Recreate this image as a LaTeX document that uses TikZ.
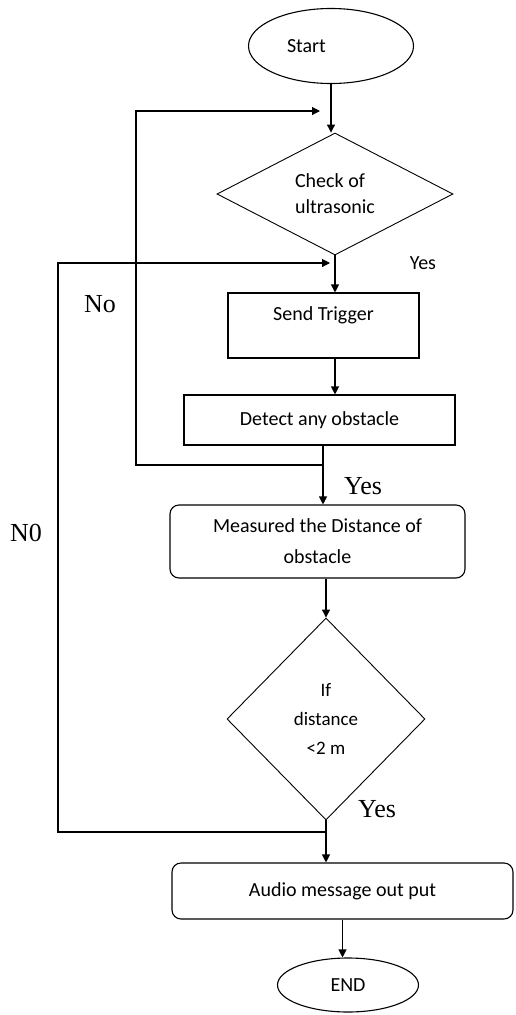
\documentclass[tikz,border=0pt]{standalone}
\usepackage{fontspec}
\setmainfont{Carlito}
\newfontfamily\timesface{Liberation Serif}
\usetikzlibrary{shapes.geometric,arrows.meta}
\begin{document}
\begin{tikzpicture}[x=1pt,y=-1pt,line width=1.1pt,
  font=\fontsize{20}{26}\selectfont,
  terminal/.style={draw,ellipse,inner sep=0pt},
  decision/.style={draw,diamond,inner sep=0pt,line width=0.9pt},
  process/.style={draw,rectangle,inner sep=0pt},
  roundbox/.style={draw,rectangle,rounded corners=9pt,inner sep=0pt},
  arr/.style={-{Triangle[length=8pt,width=8pt]}},
  answer/.style={font=\timesface\fontsize{26}{26}\selectfont}]
\useasboundingbox (0,0) rectangle (515,1015);
\node[terminal,minimum width=165pt,minimum height=75pt,text width=88pt,align=left] (start) at (331,46) {Start};
\node[decision,minimum width=236pt,minimum height=122pt,align=left] (check) at (335,194) {Check of\\ultrasonic};
\node[process,minimum width=191pt,text height=27pt,text depth=38pt] (trigger) at (323.5,325.5) {Send Trigger};
\node[process,minimum width=271pt,minimum height=50pt] (detect) at (319.5,420) {Detect any obstacle};
\node[roundbox,minimum width=295pt,minimum height=73pt,align=center,font=\fontsize{20}{31}\selectfont] (measure) at (317.5,541.5) {Measured the Distance of\\obstacle};
\node[decision,minimum width=198pt,minimum height=202pt,align=center,font=\fontsize{19}{29}\selectfont] (dist) at (326,719) {If\\distance\\<2 m};
\node[roundbox,minimum width=341pt,minimum height=56pt] (audio) at (342.5,891) {Audio message out put};
\node[terminal,minimum width=141pt,minimum height=54pt] (stop) at (348,985) {END};
% loop points
\coordinate (nojoin) at (323,465);
\coordinate (noturn) at (136,111);
\coordinate (noend) at (320,111);
\coordinate (nzjoin) at (325,832);
\coordinate (nzturn) at (58,263);
\coordinate (nzend) at (330,263);
\draw[arr] (start.south) -- (start.south |- check.north);
\draw[arr] (check.south) -- (check.south |- trigger.north);
\draw[arr] (trigger.south -| check.south) -- (detect.north -| check.south);
\draw[arr] (detect.south -| nojoin) -- (measure.north -| nojoin);
\draw[arr] (nojoin) -| (noturn) -- (noend);
\draw[arr] (measure.south -| dist.north) -- (dist.north);
\draw[arr] (dist.south) -- (dist.south |- audio.north);
\draw[arr] (nzjoin) -| (nzturn) -- (nzend);
\draw[arr] (audio.south) -- (audio.south |- stop.north);
% answers
\node (yes1) at (423,263) {Yes};
\node[answer] (no1) at (100,304) {No};
\node[answer] (yes2) at (363,486) {Yes};
\node[answer] (no2) at (26,533) {N0};
\node[answer] (yes3) at (377,809) {Yes};
\end{tikzpicture}
\end{document}
